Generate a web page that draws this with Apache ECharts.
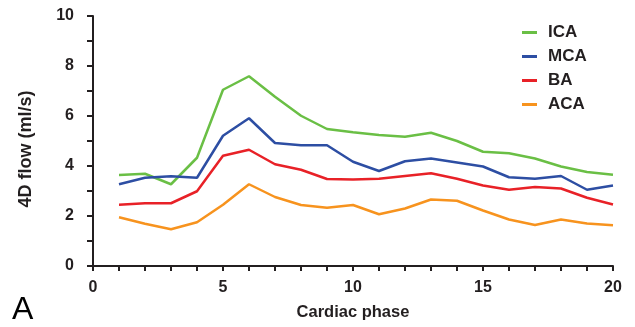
<!DOCTYPE html>
<html>
<head>
<meta charset="utf-8">
<script src="https://cdn.jsdelivr.net/npm/echarts@6/dist/echarts.min.js"></script>
<style>html,body{margin:0;padding:0;background:#fff}#c{width:635px;height:327px}</style>
</head>
<body>
<div id="c"></div>
<script>
const phases = [1,2,3,4,5,6,7,8,9,10,11,12,13,14,15,16,17,18,19,20];
const seriesNames = ['ICA','MCA','BA','ACA'];
const ICA = [3.64,3.69,3.27,4.33,7.05,7.59,6.77,6.01,5.48,5.35,5.24,5.17,5.33,5.00,4.57,4.51,4.30,3.98,3.76,3.65];
const MCA = [3.27,3.53,3.59,3.53,5.21,5.91,4.92,4.83,4.83,4.17,3.80,4.19,4.30,4.14,3.98,3.55,3.49,3.60,3.05,3.22];
const BA  = [2.45,2.51,2.51,2.99,4.41,4.65,4.07,3.85,3.48,3.46,3.49,3.60,3.71,3.49,3.22,3.05,3.16,3.10,2.73,2.46];
const ACA = [1.95,1.69,1.47,1.75,2.45,3.27,2.76,2.44,2.33,2.44,2.07,2.30,2.66,2.61,2.22,1.86,1.64,1.86,1.70,1.63];
const colors = ['#6abf45','#2d4ea3','#e82127','#f7931e'];
const xTickLabels = [0,5,10,15,20];
const yTickLabels = [0,2,4,6,8,10];

const font = '"Liberation Sans", Arial, Helvetica, sans-serif';
const txt = '#231f20';
const allData = [ICA, MCA, BA, ACA];

const chart = echarts.init(document.getElementById('c'), null, {renderer:'canvas'});
chart.setOption({
  animation: false,
  backgroundColor: '#fff',
  grid: {left: 93, right: 22, top: 16, bottom: 61},
  legend: {
    orient: 'vertical', left: 522, top: 24, padding: 0, itemGap: 7,
    itemWidth: 15, itemHeight: 3, icon: 'rect',
    data: seriesNames,
    textStyle: {fontFamily: font, fontWeight: 'bold', fontSize: 17, color: txt, padding: [0,0,0,6]}
  },
  xAxis: {
    type: 'value', min: 0, max: 20, interval: 1,
    name: 'Cardiac phase', nameLocation: 'middle', nameGap: 38,
    nameTextStyle: {fontFamily: font, fontWeight: 'bold', fontSize: 16.5, color: txt},
    axisLine: {show: true, lineStyle: {color: txt, width: 2}},
    axisTick: {show: true, length: 5, lineStyle: {color: txt, width: 2}},
    axisLabel: {
      margin: 14, fontFamily: font, fontWeight: 'bold', fontSize: 16, color: txt,
      formatter: v => xTickLabels.includes(v) ? String(v) : ''
    },
    splitLine: {show: false}
  },
  yAxis: {
    type: 'value', min: 0, max: 10, interval: 1,
    name: '4D flow (ml/s)', nameLocation: 'middle', nameGap: 58,
    nameTextStyle: {fontFamily: font, fontWeight: 'bold', fontSize: 18, color: txt, padding: [0,16,0,0]},
    axisLine: {show: true, lineStyle: {color: txt, width: 2}},
    axisTick: {show: true, length: 6, lineStyle: {color: txt, width: 2}},
    axisLabel: {
      margin: 19, fontFamily: font, fontWeight: 'bold', fontSize: 16, color: txt,
      formatter: v => yTickLabels.includes(v) ? String(v) : ''
    },
    splitLine: {show: false}
  },
  graphic: [{
    type: 'text', left: 12, top: 294,
    style: {text: 'A', font: '32px ' + font, fill: '#000'}
  }],
  series: seriesNames.map((n, i) => ({
    name: n, type: 'line', showSymbol: false, symbol: 'none',
    data: phases.map((p, j) => [p, allData[i][j]]),
    lineStyle: {color: colors[i], width: 2.5},
    itemStyle: {color: colors[i]}
  }))
});
</script>
</body>
</html>
